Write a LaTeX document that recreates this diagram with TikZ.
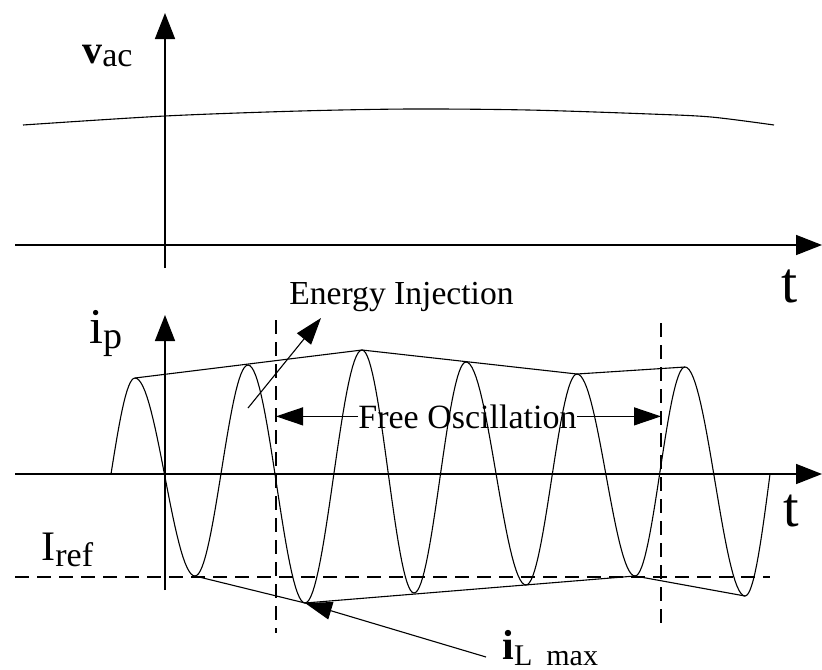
\documentclass[tikz,border=0pt]{standalone}
\usepackage{fontspec}
\setmainfont{Liberation Serif}
\usetikzlibrary{arrows.meta,calc}
\newcommand{\fs}[1]{\fontsize{#1}{#1}\selectfont}
\tikzset{
  axis/.style  ={line width=0.8pt, -{Triangle[length=13pt,width=10pt]}},
  wave/.style  ={line width=0.55pt, line join=round},
  guide/.style ={line width=0.55pt, dash pattern=on 7pt off 4pt},
  ptr/.style   ={line width=0.55pt, -{Triangle[length=13.5pt,width=9pt]}},
  lbl/.style   ={inner sep=0pt, anchor=base west},
}

\begin{document}
\begin{tikzpicture}[x=0.5pt,y=-0.5pt]
  \useasboundingbox (0,0) rectangle (822,669);
  % upper graph: line voltage
  \coordinate (vbot)   at (165,268);
  \coordinate (vtop)   at (165,13);
  \coordinate (vleft)  at (15,245);
  \coordinate (vright) at (822,245);
  \draw[axis] (vbot) -- (vtop);
  \draw[axis] (vleft) -- (vright);
  \draw[wave] plot[smooth] coordinates {(23,125) (165,116) (300,111) (411,109) (528,110) (650,114) (711,117) (774,125)};
  \node[lbl] (vac) at (82,63) {\fs{20pt}\textbf{v}\raisebox{-1.5pt}{\fs{17pt}ac}};
  \node[lbl] (tv) at (781,302) {\fs{29pt}t};

  % lower graph: resonant current
  \coordinate (ibot)   at (165,590);
  \coordinate (itop)   at (165,315);
  \coordinate (ileft)  at (15,474);
  \coordinate (iright) at (822,474);
  \draw[axis] (ibot) -- (itop);
  \draw[axis] (ileft) -- (iright);
  \foreach \n/\x/\y in {p1/135/378, q1/195/576, p2/248/365, q2/305/603, p3/362/350, q3/414/593,
                        p4/466/362, q4/526/585, p5/577/374, q5/635/576, p6/685/367, q6/745/596}
    \coordinate (\n) at (\x,\y);
  \draw[wave] plot[variable=\u, domain=0:90, samples=16] ({111+24*\u/90}, {474-96*sin(\u)});
  \foreach \xa/\ya/\xb/\yb in {135/378/195/576, 195/576/248/365, 248/365/305/603, 305/603/362/350,
                               362/350/414/593, 414/593/466/362, 466/362/526/585, 526/585/577/374,
                               577/374/635/576, 635/576/685/367, 685/367/745/596}
    \draw[wave] plot[variable=\u, domain=0:180, samples=31]
      ({\xa+(\xb-\xa)*\u/180}, {(\ya+\yb)/2+(\ya-\yb)/2*cos(\u)});
  \draw[wave] plot[variable=\u, domain=0:90, samples=16] ({745+25*\u/90}, {596-122*(1-cos(\u))});
  % envelopes
  \draw[wave] (p1) -- (p3) -- (p5) -- (p6);
  \draw[wave] (q1) -- (q2) -- (q5) -- (q6);

  % reference level and interval marks
  \coordinate (rl) at (15,577);
  \coordinate (rr) at (770,577);
  \draw[guide] (rl) -- (rr);
  \coordinate (d1t) at (276,320);
  \coordinate (d1b) at (276,633);
  \coordinate (d2t) at (661,323);
  \coordinate (d2b) at (661,630);
  \draw[guide] (d1t) -- (d1b);
  \draw[guide] (d2t) -- (d2b);

  % labels
  \node[lbl] (ip) at (89,343) {\fs{25pt}i\raisebox{-2.5pt}{\fs{19pt}p}};
  \node[lbl] (iref) at (41,560) {\fs{21pt}I\raisebox{-3pt}{\fs{17pt}ref}};
  \node[lbl] (ti) at (783,526) {\fs{28pt}t};
  \node[lbl] (inj) at (289,304) {\fs{16.8pt}Energy Injection};
  \coordinate (injfoot) at (248,408);
  \coordinate (injtip)  at (321,318);
  \draw[ptr] (injfoot) -- (injtip);
  \node[lbl] (osc) at (358,428) {\fs{17pt}Free Oscillation};
  \draw[ptr] (osc.west) -- (osc.west -| d1t);
  \draw[ptr] (osc.east) -- (osc.east -| d2t);
  \node[lbl] (ilmax) at (502,659) {\fs{21pt}\textbf{i}\raisebox{-3pt}{\fs{15pt}L\hspace{7pt}max}};
  \coordinate (ilfoot) at (486,657);
  \draw[ptr] (ilfoot) -- (q2);
\end{tikzpicture}
\end{document}
